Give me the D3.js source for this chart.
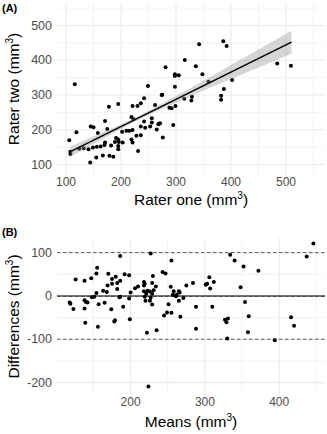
<!DOCTYPE html>
<html>
<head>
<meta charset="utf-8">
<script src="https://cdnjs.cloudflare.com/ajax/libs/d3/7.8.5/d3.min.js"></script>
<style>
  body { margin: 0; background: #fff; }
  text { font-family: "Liberation Sans", Arial, sans-serif; }
</style>
</head>
<body>
<svg></svg>
<script>
  // panel A: rater one vs rater two (mm^3)
  let raterOne = [116,342,386,392,316,281,336,298,298,305,348,484,509,402,359,298,387,275,382,382,329,328,315,288,299,
    249,195,178,242,221,230,236,262,274,219,223,171,242,256,236,244,269,145,150,158,175,210,119,202,215,221,228,236,253,265,
    191,195,189,196,203,171,219,221,156,170,163,182,195,195,106,149,132,124,141,108,108,231,155,167,179,186,144,295,276,292,271,268,256];
  let raterTwo = [331,446,455,441,401,380,383,360,355,357,360,391,384,343,338,324,317,301,298,286,295,284,289,263,268,
    326,274,266,291,268,268,276,271,300,237,230,225,224,221,209,206,217,209,207,191,202,197,193,194,197,199,183,184,209,201,
    176,172,165,165,163,163,172,163,151,156,152,155,153,144,170,149,147,145,144,137,130,139,120,126,125,122,106,214,178,262,219,216,233];

  // fitted line and confidence band
  let fitX = [108, 510];
  let fitY = [137, 452];
  let bandX = [108, 150, 200, 230, 260, 300, 350, 400, 450, 510];
  let bandLo = [122, 159, 202, 227, 250, 278, 313, 346, 379, 419];
  let bandHi = [152, 181, 216, 238, 263, 297, 341, 386, 431, 485];

  // panel B: Bland-Altman means and differences
  let means = [186,227,255,126,138,147,154,155,170,175,180,182,186,192,198,169,175,182,163,168,154,148,206,210,200,218,219,218,
    230,229,243,247,234,231,218,223,226,229,221,254,258,265,262,275,284,118,138,140,185,
    119,123,138,142,151,139,157,165,156,174,178,179,186,190,198,199,219,220,226,229,227,222,224,235,245,249,255,251,267,257,261,266,265,271,
    288,310,327,329,331,288,330,354,359,358,394,416,420,
    301,303,306,312,307,334,340,352,372,348,437,446];
  let diffs = [92,98,82,38,35,41,52,65,51,39,44,30,35,50,48,24,28,16,12,9,7,-3,18,22,8,32,28,24,
    46,30,55,52,22,13,11,12,10,5,5,21,11,11,3,24,30,-15,-10,-14,-3,
    -18,-30,-29,-15,-2,-62,-19,-16,-71,-31,-59,-56,-2,-25,-6,-54,-2,-11,-11,-20,-4,-85,-209,-79,-45,-38,-39,-19,-48,3,-1,8,-11,-5,
    -25,-25,-55,-61,-52,-76,-98,-14,-47,-84,-102,-49,-69,
    26,28,43,32,17,95,82,68,58,20,91,121];
  let bias = -1;
  let limits = [-100, 100];

  let ticksA = [100, 200, 300, 400, 500];
  let minorA = [150, 250, 350, 450, 550];
  let ticksBx = [200, 300, 400];
  let minorBx = [150, 250, 350, 450];
  let ticksBy = [-200, -100, 0, 100];
  let minorBy = [-150, -50, 50];

  let width = 327, height = 434;
  let svg = d3.select("svg").attr("width", width).attr("height", height);

  let gridCol = "#EBEBEB", tickCol = "#4D4D4D";

  let panelA = {left: 57, right: 325, top: 3, bottom: 175};
  let panelB = {left: 57, right: 325, top: 238, bottom: 395};

  let scales = {
    ax: d3.scaleLinear().domain([100, 500]).range([66, 286]),
    ay: d3.scaleLinear().domain([100, 500]).range([164.5, 25.5]),
    bx: d3.scaleLinear().domain([200, 400]).range([130.6, 279.2]),
    by: d3.scaleLinear().domain([-200, 100]).range([382.6, 252.6])
  };

  function clip(id, p) {
    svg.append("clipPath").attr("id", id).append("rect")
      .attr("x", p.left).attr("y", p.top)
      .attr("width", p.right - p.left).attr("height", p.bottom - p.top);
  }
  clip("clipA", panelA);
  clip("clipB", panelB);

  function gridLines(g, data, p, s, vertical, w) {
    g.selectAll(null).data(data).enter().append("line")
      .attr("x1", d => vertical ? s(d) : p.left).attr("x2", d => vertical ? s(d) : p.right)
      .attr("y1", d => vertical ? p.top : s(d)).attr("y2", d => vertical ? p.bottom : s(d))
      .attr("stroke", gridCol).attr("stroke-width", w);
  }

  function grid(p, xs, ys, major, minor, majorY, minorY) {
    let g = svg.append("g");
    gridLines(g, minor, p, xs, true, 0.6);
    gridLines(g, major, p, xs, true, 1.1);
    gridLines(g, minorY, p, ys, false, 0.6);
    gridLines(g, majorY, p, ys, false, 1.1);
  }

  function tickLabels(p, xs, ys, xt, yt) {
    svg.append("g").selectAll("text").data(xt).enter().append("text")
      .attr("x", d => xs(d)).attr("y", p.bottom + 11)
      .attr("text-anchor", "middle").attr("font-size", 12).attr("fill", tickCol)
      .text(d => d);
    svg.append("g").selectAll("text").data(yt).enter().append("text")
      .attr("x", p.left - 5).attr("y", d => ys(d) + 4.2)
      .attr("text-anchor", "end").attr("font-size", 12.5).attr("fill", tickCol)
      .text(d => d);
  }

  function title(x, y, label, rotate) {
    let t = svg.append("text")
      .attr("text-anchor", "middle").attr("font-size", 15.5).attr("fill", "#000");
    if (rotate) t.attr("transform", "translate(" + x + "," + y + ") rotate(-90)");
    else t.attr("x", x).attr("y", y);
    t.append("tspan").text(label + " (mm");
    t.append("tspan").attr("font-size", 10).attr("dy", -6).text("3");
    t.append("tspan").attr("dy", 6).text(")");
  }

  // ---- panel A
  grid(panelA, scales.ax, scales.ay, ticksA, minorA, ticksA, minorA);
  tickLabels(panelA, scales.ax, scales.ay, ticksA, ticksA);

  let gA = svg.append("g").attr("clip-path", "url(#clipA)");
  gA.selectAll(".pt").data(raterOne).enter().append("circle")
    .attr("cx", d => scales.ax(d))
    .attr("cy", (d, i) => scales.ay(raterTwo[i]))
    .attr("r", 2).attr("fill", "#000");

  // band drawn over the points, like the smoother layer
  let area = d3.area()
    .x(d => scales.ax(d))
    .y0((d, i) => scales.ay(bandLo[i]))
    .y1((d, i) => scales.ay(bandHi[i]));
  gA.append("path").datum(bandX).attr("d", area)
    .attr("fill", "#999999").attr("fill-opacity", 0.4);

  gA.append("path").datum(fitX)
    .attr("d", d3.line().x(d => scales.ax(d)).y((d, i) => scales.ay(fitY[i])))
    .attr("stroke", "#000").attr("stroke-width", 1.5).attr("fill", "none");

  title((panelA.left + panelA.right) / 2, 205, "Rater one", false);
  title(19, (panelA.top + panelA.bottom) / 2, "Rater two", true);
  svg.append("text").attr("x", 2).attr("y", 12).attr("font-size", 11)
    .attr("font-weight", "bold").text("(A)");

  // ---- panel B
  grid(panelB, scales.bx, scales.by, ticksBx, minorBx, ticksBy, minorBy);
  tickLabels(panelB, scales.bx, scales.by, ticksBx, ticksBy);

  let gB = svg.append("g").attr("clip-path", "url(#clipB)");
  gB.append("line")
    .attr("x1", panelB.left).attr("x2", panelB.right)
    .attr("y1", scales.by(0)).attr("y2", scales.by(0))
    .attr("stroke", "#000").attr("stroke-width", 1.1);
  gB.selectAll(".lim").data([bias].concat(limits)).enter().append("line")
    .attr("x1", panelB.left).attr("x2", panelB.right)
    .attr("y1", d => scales.by(d)).attr("y2", d => scales.by(d))
    .attr("stroke", "#333").attr("stroke-width", 0.8).attr("stroke-dasharray", "3.5,2.5");

  gB.selectAll(".pt").data(means).enter().append("circle")
    .attr("cx", d => scales.bx(d))
    .attr("cy", (d, i) => scales.by(diffs[i]))
    .attr("r", 2).attr("fill", "#000");

  title((panelB.left + panelB.right) / 2, 427, "Means", false);
  title(19, (panelB.top + panelB.bottom) / 2, "Differences", true);
  svg.append("text").attr("x", 2).attr("y", 236).attr("font-size", 11)
    .attr("font-weight", "bold").text("(B)");
</script>
</body>
</html>
